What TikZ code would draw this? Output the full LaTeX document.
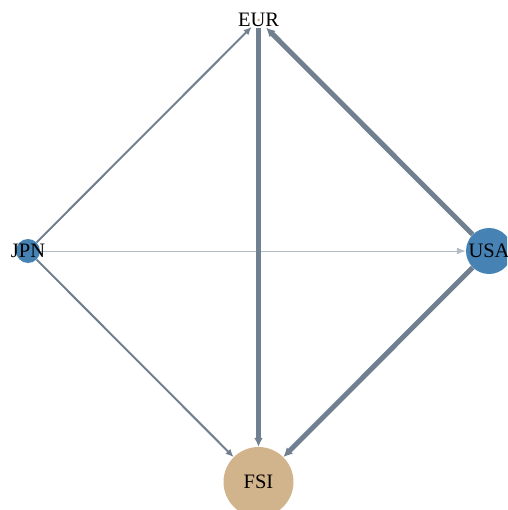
\documentclass[tikz,border=0pt]{standalone}
\usepackage{fontspec}
\setmainfont{Liberation Serif}
\usetikzlibrary{arrows.meta}
\definecolor{edgegray}{RGB}{112,128,144}
\definecolor{faintgray}{RGB}{178,188,198}
\definecolor{steelblue}{RGB}{70,130,180}
\definecolor{tanfill}{RGB}{210,180,140}

\begin{document}
\begin{tikzpicture}[line cap=butt, line join=round, x=1pt, y=-1pt,
  country/.style={circle, fill=steelblue, inner sep=0pt},
  lbl/.style={font=\fontsize{20.5}{20.5}\selectfont, inner sep=0pt, text=black},
  thinflow/.style={draw=edgegray, line width=2pt, -{Latex[length=8pt, width=7pt]}},
  thickflow/.style={draw=edgegray, line width=5pt, -{Latex[length=9pt, width=9pt]}},
  faintflow/.style={draw=faintgray, line width=1pt, -{Latex[length=9pt, width=7pt]}}]
\useasboundingbox (0,0) rectangle (507,510);
\clip (0,0) rectangle (507,510);
% nodes
\node[circle, fill=tanfill, minimum size=3pt, inner sep=0pt] (eur) at (258.5,20) {};
\node[country, minimum size=24pt] (jpn) at (28,251) {};
\node[country, minimum size=46pt] (usa) at (489,251) {};
\node[circle, fill=tanfill, minimum size=70pt, inner sep=0pt] (fsi) at (258.5,482) {};
% flows
\draw[faintflow] (jpn) -- (usa);
\draw[thinflow, shorten >=8pt] (jpn) -- (eur);
\draw[thinflow] (jpn) -- (fsi);
\draw[thickflow, shorten >=9pt] (usa) -- (eur);
\draw[thickflow] (usa) -- (fsi);
\draw[thickflow, line width=5.5pt, shorten <=6pt] (eur) -- (fsi);
% labels
\node[lbl] at (eur) {EUR};
\node[lbl] at (jpn) {JPN};
\node[lbl] at (usa) {USA};
\node[lbl] at (fsi) {FSI};
\end{tikzpicture}
\end{document}
